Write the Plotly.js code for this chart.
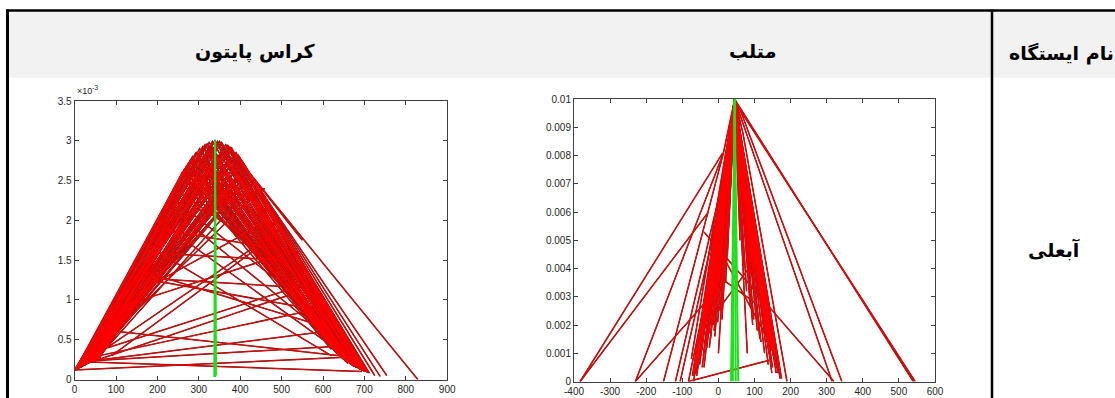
<!DOCTYPE html>
<html><head><meta charset="utf-8">
<script src="https://cdn.plot.ly/plotly-3.0.1.min.js"></script>
<style>html,body{margin:0;padding:0;background:#fff;overflow:hidden}#chart{width:1115px;height:398px}</style>
</head><body><div id="chart"></div>
<script>
// ---------- table texts ----------
const headerPython = 'کراس پایتون';
const headerMatlab = 'متلب';
const headerStation = 'نام ایستگاه';
const stationName = 'آبعلی';

// ---------- Python chart (y in units of 1e-3) ----------
const pyXTicks = [0,100,200,300,400,500,600,700,800,900];
const pyYTicks = [0,0.5,1,1.5,2,2.5,3,3.5];
const pyYTickText = ['0','0.5','1','1.5','2','2.5','3','3.5'];
// fan triangles: left base -> peak -> right base
const pyFanLeftX  = [0,5,10,15,20,25,30,35,40,45,50,55,60,0,10,20,30,40,50,0,15,25,35,45,5,60,
  2,4,6,8,12,14,16,18,22,24,26,28,32,34,36,38,42,44,46,48,52,54,56,58,3,7,11,13,17,19,23,27,29,31,33,37,39,41,43,47,49,51,53,57];
const pyFanLeftY  = [0.12,0.13,0.14,0.15,0.17,0.18,0.20,0.21,0.22,0.23,0.24,0.25,0.27,0.12,0.14,0.17,0.20,0.22,0.24,0.12,0.15,0.18,0.21,0.23,0.13,0.27,
  0.125,0.13,0.135,0.14,0.15,0.155,0.16,0.165,0.175,0.18,0.185,0.19,0.20,0.205,0.21,0.215,0.225,0.23,0.235,0.24,0.25,0.255,0.26,0.265,0.13,0.14,0.15,0.15,0.16,0.17,0.18,0.19,0.19,0.20,0.20,0.21,0.22,0.22,0.23,0.24,0.24,0.25,0.25,0.26];
const pyFanPeakX  = [339,325,355,310,375,295,395,280,412,270,330,360,300,420,260,345,385,320,430,290,350,400,310,370,440,340,
  265,275,285,292,302,315,320,333,345,350,365,370,380,390,400,405,410,415,425,300,330,360,380,320,350,400,290,340,310,370,355,325,345,385,395,300,335,360,375,410,280,315,390,270];
const pyFanPeakY  = [3.00,2.98,2.98,2.93,2.92,2.85,2.82,2.76,2.66,2.68,2.90,2.85,2.75,2.60,2.60,2.80,2.75,2.70,2.45,2.60,2.60,2.55,2.50,2.70,2.35,2.55,
  2.64,2.72,2.80,2.84,2.90,2.95,2.96,2.99,2.99,2.99,2.95,2.94,2.90,2.85,2.78,2.74,2.68,2.64,2.55,2.60,2.70,2.60,2.50,2.40,2.30,2.40,2.50,2.80,2.70,2.75,2.85,2.85,2.60,2.65,2.55,2.45,2.50,2.40,2.35,2.50,2.55,2.60,2.70,2.50];
const pyFanRightX = [660,650,680,640,700,630,690,625,710,645,670,655,635,700,620,665,685,650,695,640,660,675,630,690,705,645,
  622,628,633,638,642,647,652,657,662,667,672,677,682,687,692,697,702,706,712,625,632,637,644,649,656,661,668,674,679,684,689,694,699,703,708,627,636,646,653,663,671,681,691,701];
const pyFanRightY = [0.20,0.25,0.15,0.30,0.10,0.35,0.12,0.40,0.08,0.28,0.18,0.22,0.32,0.12,0.38,0.20,0.14,0.26,0.11,0.30,0.22,0.16,0.36,0.13,0.10,0.30,
  0.39,0.36,0.33,0.31,0.29,0.27,0.25,0.23,0.21,0.19,0.17,0.16,0.15,0.14,0.12,0.11,0.10,0.09,0.08,0.38,0.34,0.32,0.28,0.26,0.24,0.21,0.19,0.17,0.16,0.15,0.13,0.12,0.11,0.10,0.09,0.37,0.32,0.27,0.25,0.21,0.18,0.15,0.13,0.10];
// sparse crossing segments
const pySegX0 = [37,0,55,110,60,80,40,180,102,130,200,220,250,90,160,240,200,260,120,190,370,395,405,412,412,150,70,230,140,170,0,50,280,300];
const pySegY0 = [0.22,0.12,0.24,0.60,0.30,0.40,0.22,1.27,0.90,1.30,2.00,2.20,2.50,0.30,1.60,2.40,1.95,2.60,1.00,1.90,2.93,2.82,2.74,2.66,2.66,1.45,0.75,2.30,1.40,1.70,0.12,0.24,2.76,2.85];
const pySegX1 = [694,655,645,640,600,560,540,500,520,560,600,620,560,480,500,520,460,500,470,540,829,725,738,754,550,390,380,600,580,620,500,600,470,600];
const pySegY1 = [0.10,0.28,0.42,0.30,0.90,1.20,1.10,1.17,1.60,0.90,0.50,0.50,1.00,1.80,1.50,1.40,2.40,1.90,2.00,1.60,0.00,0.05,0.04,0.05,1.75,2.84,2.92,0.80,0.70,0.30,1.90,0.60,2.10,0.90];
// green lines
const pyGreenX0 = [337,340,342];
const pyGreenY0 = [0.03,0.03,0.05];
const pyGreenX1 = [339,339,340];
const pyGreenY1 = [3.00,3.00,2.98];

// ---------- MATLAB chart ----------
const mlXTicks = [-400,-300,-200,-100,0,100,200,300,400,500,600];
const mlXTickText = ['-400','-300','-200','-100','0','100','200','300','400','500','600'];
const mlYTicks = [0,0.001,0.002,0.003,0.004,0.005,0.006,0.007,0.008,0.009,0.01];
const mlYTickText = ['0','0.001','0.002','0.003','0.004','0.005','0.006','0.007','0.008','0.009','0.01'];
const mlPeakX = 45;
const mlPeakY = 0.01;
const mlLeftBaseX  = [-70,-65,-60,-55,-50,-45,-40,-35,-30,-25,-20,-15,-10,-5,0,10,20,-75,-45,25,30,
  -72,-68,-63,-58,-53,-48,-43,-38,-33,-28,-23,-18,-13,-8,-3,2,-62,-52,-42,-32,-22,-12,-2,5,12,
  -66,-56,-46,-36,-26,-16,-6,-60,-40];
const mlLeftBaseY  = [0.0002,0.0004,0.0006,0.0009,0.0012,0.0015,0.0018,0.0021,0.0024,0.0012,0.0028,0.0020,0.0016,0.0030,0.0010,0.0022,0.0035,0.0008,0.0005,0.0045,0.0060,
  0.0002,0.0003,0.0005,0.0007,0.0010,0.0013,0.0016,0.0019,0.0022,0.0025,0.0027,0.0030,0.0032,0.0034,0.0036,0.0038,0.0003,0.0006,0.0009,0.0012,0.0015,0.0018,0.0021,0.0025,0.0030,
  0.0004,0.0008,0.0011,0.0014,0.0017,0.0021,0.0024,0.0002,0.0005];
const mlRightBaseX = [160,150,145,140,135,130,125,120,110,100,90,80,170,155,115,95,175,60,65,
  165,158,152,147,142,137,132,127,122,117,112,105,98,92,148,138,128,118,108,98,88,78,70,
  162,155,150,144,139,134,129,124,119,113,103,95];
const mlRightBaseY = [0.0003,0.0005,0.0008,0.0010,0.0014,0.0018,0.0022,0.0026,0.0030,0.0034,0.0038,0.0010,0.0004,0.0012,0.0015,0.0020,0.0001,0.0050,0.0060,
  0.0003,0.0006,0.0009,0.0011,0.0013,0.0016,0.0020,0.0024,0.0028,0.0031,0.0034,0.0037,0.0040,0.0043,0.0003,0.0006,0.0010,0.0014,0.0018,0.0022,0.0027,0.0032,0.0040,
  0.0005,0.0008,0.0011,0.0014,0.0018,0.0022,0.0026,0.0030,0.0033,0.0036,0.0040,0.0044];
const mlSegX0 = [-383,-383,-230,-230,-152,-119,-106,-83,-83,-69,45,61,45,61,68,45,-40,14,68,61,-30,-20,10];
const mlSegY0 = [0,0,0,0,0,0,0,0,0,0,0.01,0.0096,0.01,0.0096,0.0088,0.01,0.0053,0.0081,0.0088,0.0096,0.0040,0.0022,0.0045];
const mlSegX1 = [12,-28,14,5,14,10,0,140,-10,20,540,545,315,342,190,171,320,45,45,45,100,95,150];
const mlSegY1 = [0.0081,0.0060,0.0081,0.0034,0.0081,0.0070,0.0060,0.00075,0.0045,0.0065,0,0,0,0,0,0.0001,0,0.01,0.01,0.01,0.0028,0.0042,0.0012];
const mlGreenBaseX = [35,40,48,55];
const mlGreenBaseY = [0,0,0,0];

// ---------- build polylines ----------
function pyLines() {
  const x = [], y = [];
  for (let i = 0; i < pyFanLeftX.length; i++) {
    x.push(pyFanLeftX[i], pyFanPeakX[i], pyFanRightX[i], null);
    y.push(pyFanLeftY[i], pyFanPeakY[i], pyFanRightY[i], null);
  }
  for (let i = 0; i < pySegX0.length; i++) {
    x.push(pySegX0[i], pySegX1[i], null);
    y.push(pySegY0[i], pySegY1[i], null);
  }
  return {x, y};
}
function pyGreen() {
  const x = [], y = [];
  for (let i = 0; i < pyGreenX0.length; i++) {
    x.push(pyGreenX0[i], pyGreenX1[i], null);
    y.push(pyGreenY0[i], pyGreenY1[i], null);
  }
  return {x, y};
}
function mlLines() {
  const x = [], y = [];
  for (let i = 0; i < mlLeftBaseX.length; i++) {
    x.push(mlPeakX, mlLeftBaseX[i], null);
    y.push(mlPeakY, mlLeftBaseY[i], null);
  }
  for (let i = 0; i < mlRightBaseX.length; i++) {
    x.push(mlPeakX, mlRightBaseX[i], null);
    y.push(mlPeakY, mlRightBaseY[i], null);
  }
  for (let i = 0; i < mlSegX0.length; i++) {
    x.push(mlSegX0[i], mlSegX1[i], null);
    y.push(mlSegY0[i], mlSegY1[i], null);
  }
  return {x, y};
}
function mlGreen() {
  const x = [], y = [];
  for (let i = 0; i < mlGreenBaseX.length; i++) {
    x.push(mlGreenBaseX[i], mlPeakX, null);
    y.push(mlGreenBaseY[i], mlPeakY, null);
  }
  return {x, y};
}

const DARK = '#5a1414', RED = '#ff0000', GREEN = '#1ee01e';
const P = pyLines(), PG = pyGreen(), M = mlLines(), MG = mlGreen();
const traces = [
  {x: P.x, y: P.y, xaxis: 'x', yaxis: 'y', mode: 'lines', line: {color: DARK, width: 1.5}, connectgaps: false, hoverinfo: 'skip'},
  {x: P.x, y: P.y, xaxis: 'x', yaxis: 'y', mode: 'lines', line: {color: RED, width: 0.9}, connectgaps: false, hoverinfo: 'skip'},
  {x: PG.x, y: PG.y, xaxis: 'x', yaxis: 'y', mode: 'lines', line: {color: GREEN, width: 1.6}, hoverinfo: 'skip'},
  {x: M.x, y: M.y, xaxis: 'x2', yaxis: 'y2', mode: 'lines', line: {color: DARK, width: 1.5}, connectgaps: false, hoverinfo: 'skip'},
  {x: M.x, y: M.y, xaxis: 'x2', yaxis: 'y2', mode: 'lines', line: {color: RED, width: 1.0}, connectgaps: false, hoverinfo: 'skip'},
  {x: MG.x, y: MG.y, xaxis: 'x2', yaxis: 'y2', mode: 'lines', line: {color: GREEN, width: 2}, hoverinfo: 'skip'}
];

const W = 1115, H = 398;
const px = v => v / W, py = v => 1 - v / H;
const axFont = {family: 'Liberation Sans, Arial, sans-serif', size: 10, color: '#262626'};
const axBase = {
  showline: true, linecolor: '#404040', linewidth: 1, mirror: 'allticks',
  ticks: 'inside', ticklen: 4, tickcolor: '#404040', tickwidth: 1,
  showgrid: false, zeroline: false, tickfont: axFont, fixedrange: true, tickmode: 'array'
};
const headFont = {family: 'DejaVu Sans, sans-serif', size: 19, color: '#000', weight: 'bold'};

const layout = {
  width: W, height: H, margin: {l: 0, r: 0, t: 0, b: 0},
  paper_bgcolor: '#fff', plot_bgcolor: '#fff', showlegend: false,
  xaxis: Object.assign({}, axBase, {domain: [px(74.6), px(447.2)], range: [0, 900], anchor: 'y',
    tickvals: pyXTicks, ticktext: pyXTicks.map(String)}),
  yaxis: Object.assign({}, axBase, {domain: [py(379.5), py(101)], range: [0, 3.5], anchor: 'x',
    tickvals: pyYTicks, ticktext: pyYTickText}),
  xaxis2: Object.assign({}, axBase, {domain: [px(574), px(935)], range: [-400, 600], anchor: 'y2',
    tickvals: mlXTicks, ticktext: mlXTickText}),
  yaxis2: Object.assign({}, axBase, {domain: [py(381.5), py(99.3)], range: [0, 0.01], anchor: 'x2',
    tickvals: mlYTicks, ticktext: mlYTickText}),
  shapes: [
    {type: 'rect', xref: 'paper', yref: 'paper', x0: px(7), x1: 1.01, y0: py(78), y1: py(11), fillcolor: '#f2f2f2', line: {width: 0}, layer: 'below'},
    {type: 'line', xref: 'paper', yref: 'paper', x0: px(6), x1: 1.01, y0: py(10.5), y1: py(10.5), line: {color: '#000', width: 2.5}},
    {type: 'line', xref: 'paper', yref: 'paper', x0: px(7.5), x1: px(7.5), y0: py(9.5), y1: -0.01, line: {color: '#000', width: 3}},
    {type: 'line', xref: 'paper', yref: 'paper', x0: px(992), x1: px(992), y0: py(9.5), y1: -0.01, line: {color: '#000', width: 2.5}}
  ],
  annotations: [
    {text: headerPython, xref: 'paper', yref: 'paper', x: px(193), y: py(38), showarrow: false, font: headFont},
    {text: headerMatlab, xref: 'paper', yref: 'paper', x: px(778), y: py(38), showarrow: false, font: headFont},
    {text: headerStation, xref: 'paper', yref: 'paper', x: px(1116), xanchor: 'right', y: py(40), showarrow: false, font: headFont},
    {text: stationName, xref: 'paper', yref: 'paper', x: px(1082), y: py(249), showarrow: false, font: headFont},
    {text: '×10<sup>-3</sup>', xref: 'paper', yref: 'paper', x: px(75), xanchor: 'left', y: py(98), yanchor: 'bottom', showarrow: false,
      font: {family: 'Liberation Sans, Arial, sans-serif', size: 9, color: '#262626'}}
  ]
};

Plotly.newPlot('chart', traces, layout, {staticPlot: true, displayModeBar: false});
</script>
</body></html>
